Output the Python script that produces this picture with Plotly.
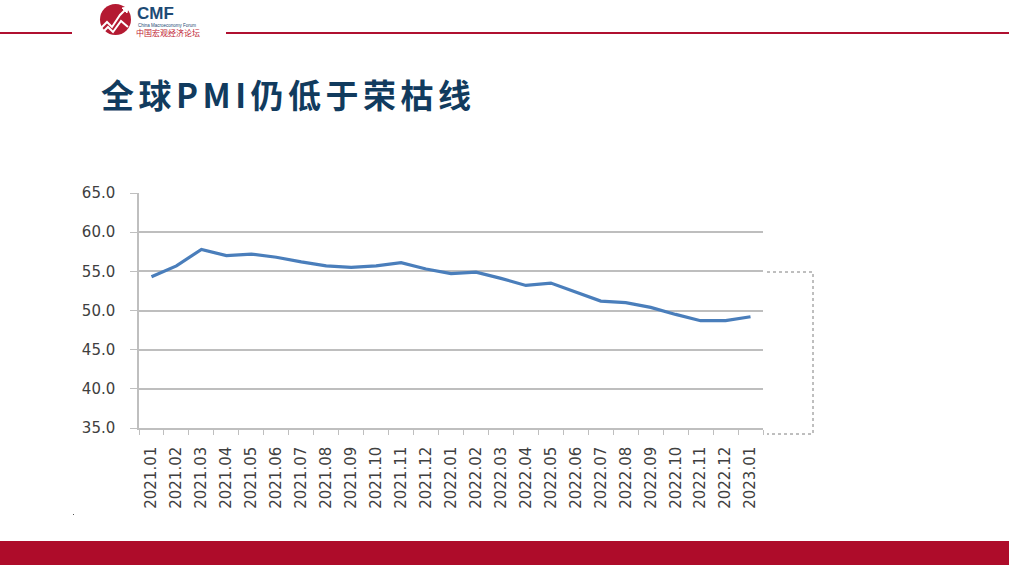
import plotly.graph_objects as go

months = ["2021.01", "2021.02", "2021.03", "2021.04", "2021.05", "2021.06", "2021.07",
          "2021.08", "2021.09", "2021.10", "2021.11", "2021.12", "2022.01", "2022.02",
          "2022.03", "2022.04", "2022.05", "2022.06", "2022.07", "2022.08", "2022.09",
          "2022.10", "2022.11", "2022.12", "2023.01"]
pmi = [54.3, 55.7, 57.8, 57.0, 57.2, 56.8, 56.2,
       55.7, 55.5, 55.7, 56.1, 55.3, 54.7, 54.9,
       54.1, 53.2, 53.5, 52.3, 51.2, 51.0, 50.4,
       49.5, 48.7, 48.7, 49.2]
y_ticks = [35, 40, 45, 50, 55, 60, 65]
y_tick_text = ["35.0", "40.0", "45.0", "50.0", "55.0", "60.0", "65.0"]

title_text = "全球PMI仍低于荣枯线"

W, H = 1009, 565
L, R, T, B = 139, 763, 193, 428


def px(x):
    return (x - L) / (R - L)


def py(y):
    return (B - y) / (B - T)


fig = go.Figure()
fig.add_trace(go.Scatter(
    x=months, y=pmi, mode="lines",
    line=dict(color="#4A7EBB", width=3.2),
    hoverinfo="x+y", showlegend=False,
))

shapes = []
# top red rules
shapes.append(dict(type="line", xref="paper", yref="paper", x0=px(0), x1=px(72), y0=py(33), y1=py(33),
                   line=dict(color="#B01030", width=2)))
shapes.append(dict(type="line", xref="paper", yref="paper", x0=px(226), x1=px(1009), y0=py(33), y1=py(33),
                   line=dict(color="#B01030", width=2)))
# bottom bar
shapes.append(dict(type="rect", xref="paper", yref="paper", x0=px(0), x1=px(1009), y0=py(565), y1=py(541),
                   fillcolor="#AE0C2A", line=dict(width=0), layer="above"))
# logo circle
shapes.append(dict(type="circle", xref="paper", yref="paper", x0=px(100), x1=px(131), y0=py(35), y1=py(4),
                   fillcolor="#B41A32", line=dict(width=0)))
# logo zigzag
zz = [(101, 28), (107, 22), (112, 27), (120, 15), (125, 10)]
path = "M " + " L ".join(f"{px(a)},{py(b)}" for a, b in zz)
shapes.append(dict(type="path", xref="paper", yref="paper", path=path,
                   line=dict(color="white", width=2)))
zz2 = [(102, 33), (108, 27), (113, 32), (121, 21), (128, 27)]
path2 = "M " + " L ".join(f"{px(a)},{py(b)}" for a, b in zz2)
shapes.append(dict(type="path", xref="paper", yref="paper", path=path2,
                   line=dict(color="white", width=2)))
arrow = [(122, 8), (128, 7), (127, 13)]
path3 = "M " + " L ".join(f"{px(a)},{py(b)}" for a, b in arrow) + " Z"
shapes.append(dict(type="path", xref="paper", yref="paper", path=path3,
                   fillcolor="white", line=dict(color="white", width=1)))
# dotted bracket at right
br = [(767, 272), (813, 272), (813, 434), (767, 434)]
path4 = "M " + " L ".join(f"{px(a)},{py(b)}" for a, b in br)
shapes.append(dict(type="path", xref="paper", yref="paper", path=path4,
                   line=dict(color="#7F7F7F", width=1, dash="dot")))
# tiny dot
shapes.append(dict(type="rect", xref="paper", yref="paper", x0=px(73), x1=px(74), y0=py(515), y1=py(514),
                   fillcolor="#555555", line=dict(width=0)))

annotations = [
    dict(text="<b><span style='letter-spacing:4.5px'>" + title_text + "</span></b>",
         xref="paper", yref="paper", x=px(99), y=py(94), xanchor="left", yanchor="middle",
         showarrow=False, font=dict(family="Noto Sans CJK SC", size=33, color="#113B5E")),
    dict(text="<b>CMF</b>", xref="paper", yref="paper", x=px(135), y=py(14), xanchor="left", yanchor="middle",
         showarrow=False, font=dict(family="Liberation Sans", size=17, color="#1D4A75")),
    dict(text="China Macroeconomy Forum", xref="paper", yref="paper", x=px(136), y=py(25.5), xanchor="left",
         yanchor="middle", showarrow=False, font=dict(family="Liberation Sans", size=4.5, color="#1D4A75")),
    dict(text="中国宏观经济论坛", xref="paper", yref="paper", x=px(134), y=py(33), xanchor="left",
         yanchor="middle", showarrow=False, font=dict(family="Noto Sans CJK SC", size=8, color="#C0192F")),
]

fig.update_layout(
    width=W, height=H,
    margin=dict(l=L, r=W - R, t=T, b=H - B, pad=0),
    paper_bgcolor="white", plot_bgcolor="white",
    shapes=shapes, annotations=annotations,
    font=dict(family="DejaVu Sans", size=15, color="#404040"),
    xaxis=dict(
        type="category", tickangle=-90, tickson="boundaries",
        range=[-0.5, len(months) - 0.5],
        ticks="outside", ticklen=5, tickcolor="#BFBFBF", tickwidth=1,
        showline=True, linecolor="#BFBFBF", linewidth=1.5,
        showgrid=False, tickfont=dict(family="DejaVu Sans", size=15, color="#404040"),
        ticklabelstandoff=11, fixedrange=True,
    ),
    yaxis=dict(
        range=[35, 65], tickvals=y_ticks, ticktext=y_tick_text,
        ticks="outside", ticklen=7, tickcolor="#BFBFBF", tickwidth=1,
        showline=True, linecolor="#BFBFBF", linewidth=1.5,
        showgrid=True, gridcolor="#BEBEBE", gridwidth=1.5,
        zeroline=False, tickfont=dict(family="DejaVu Sans", size=15, color="#404040"),
        ticklabelstandoff=12, fixedrange=True,
    ),
)

fig.write_html("out.html", config={"displayModeBar": False})
